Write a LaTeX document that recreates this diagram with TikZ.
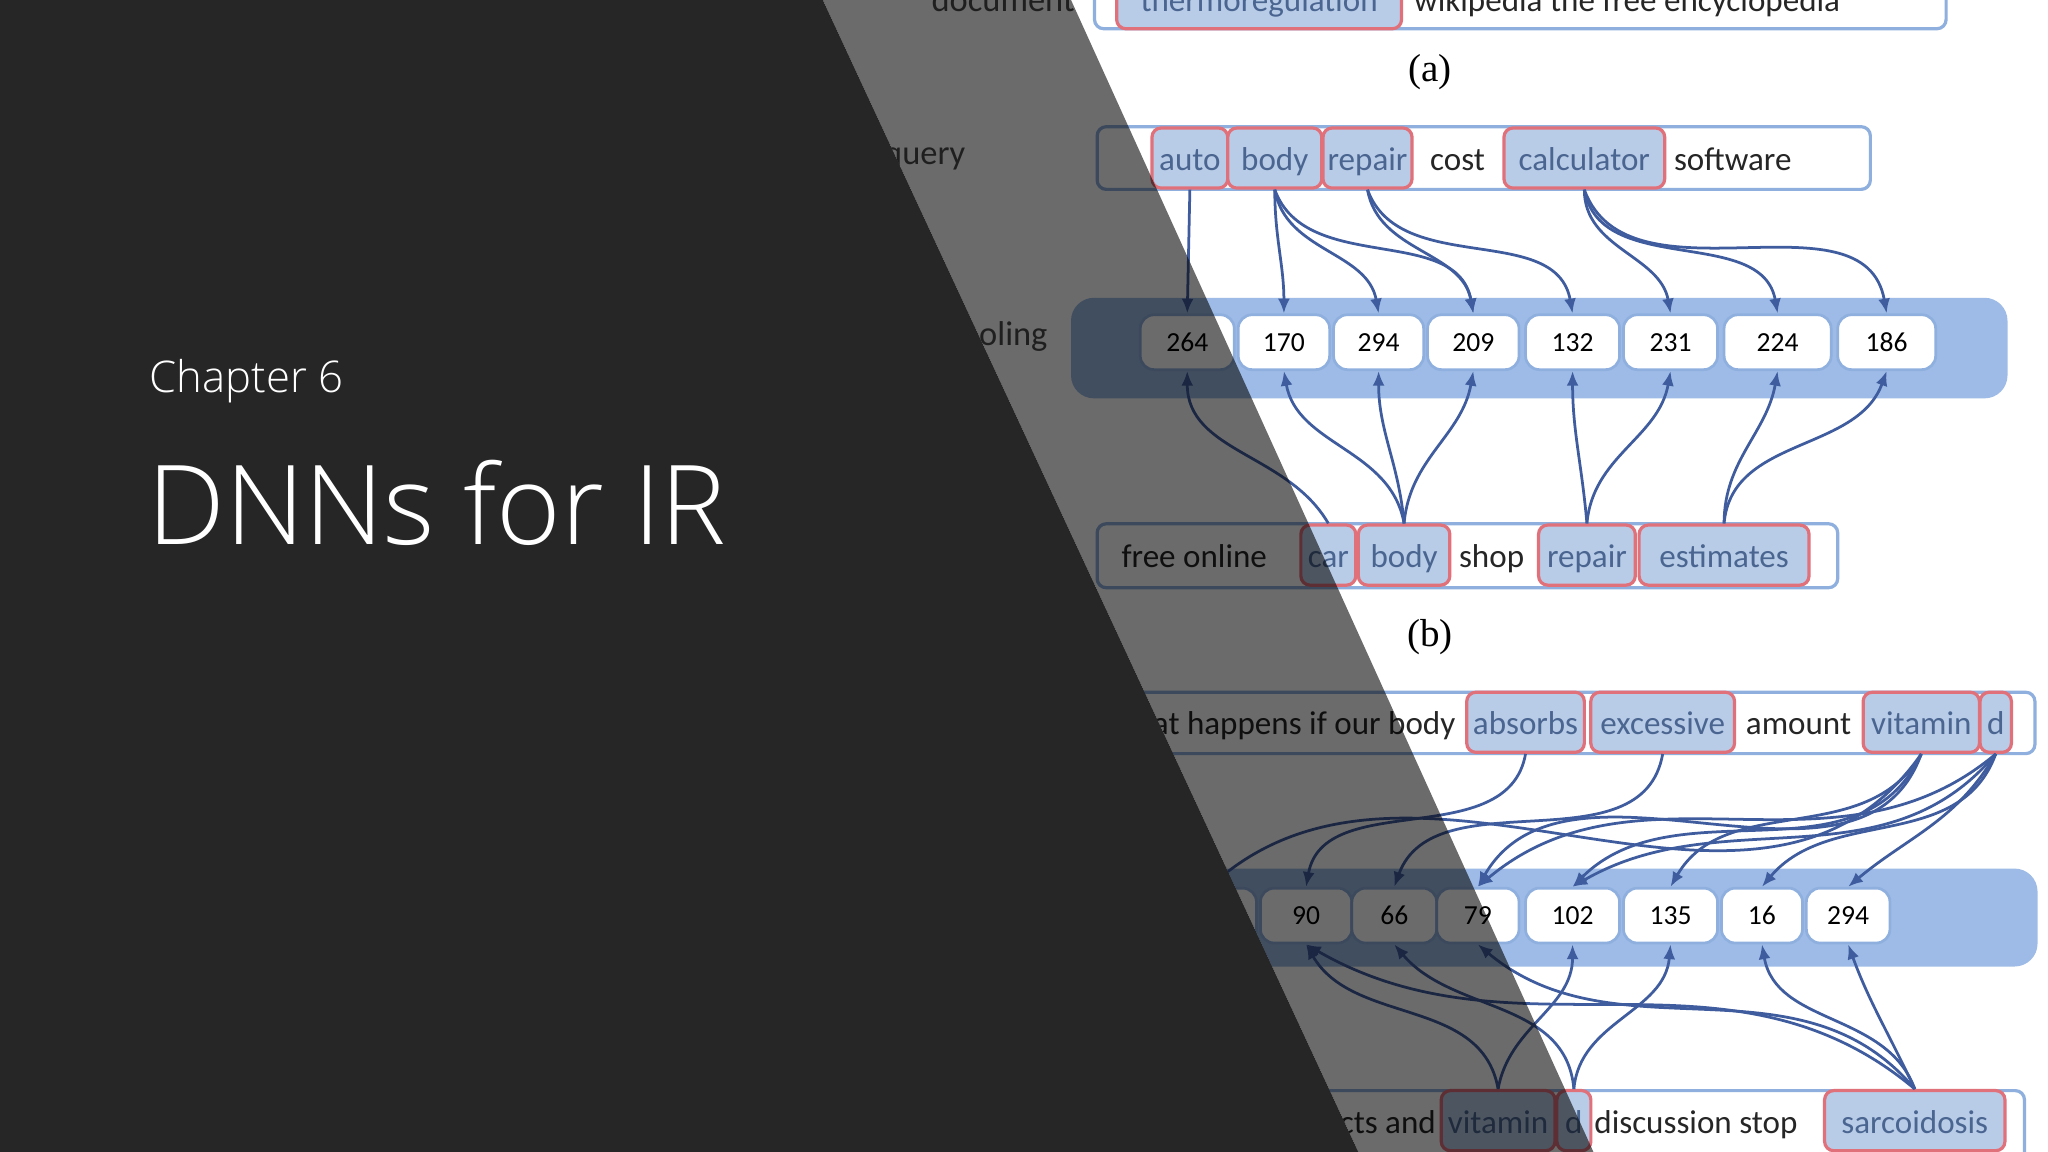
\documentclass[tikz,border=0pt]{standalone}
\usepackage{fontspec}
\setmainfont{Carlito}
\newfontfamily\slidefont{Open Sans Light}
\newfontfamily\serifb{Liberation Serif}
\usetikzlibrary{arrows.meta}
\definecolor{hlfill}{HTML}{B8CCE8}
\definecolor{hlred}{HTML}{E0707A}
\definecolor{boxblue}{HTML}{8FB0DE}
\definecolor{bandblue}{HTML}{9DBBE6}
\definecolor{arrblue}{HTML}{3F5C9E}
\definecolor{txtblue}{HTML}{4A6590}
\definecolor{darkbg}{HTML}{262626}
\tikzset{
  outer/.style={draw=boxblue,line width=0.7pt,rounded corners=2pt,fill=white},
  hl/.style={draw=hlred,fill=hlfill,line width=0.7pt,rounded corners=2pt,minimum height=0.46cm,inner xsep=1pt,inner ysep=0pt,text height=1.6ex,text depth=0.45ex,font=\fontsize{7.2}{8}\selectfont,text=txtblue},
  pw/.style={font=\fontsize{7.2}{8}\selectfont,text=black!85,inner sep=0pt,text height=1.6ex,text depth=0.45ex},
  band/.style={fill=bandblue,rounded corners=5pt},
  num/.style={draw=boxblue,fill=white,rounded corners=3pt,line width=0.6pt,minimum height=0.42cm,font=\fontsize{6}{7}\selectfont,inner sep=0pt},
  arr/.style={draw=arrblue,line width=0.6pt,-{Latex[length=3.2pt,width=2.6pt]}},
  lab/.style={font=\fontsize{7.5}{9}\selectfont,text=black!70,inner sep=0pt}
}
\begin{document}
\begin{tikzpicture}[x=0.01cm,y=-0.01cm]
\useasboundingbox (0,0) rectangle (1568,882);
\fill[white] (0,0) rectangle (1568,882);
% ---------- top document row
\node[lab] at (768,0) {document};
\draw[outer] (838,-25) rectangle (1490,22);
\node[hl,minimum width=2.18cm] (t0) at (964,-1) {thermoregulation};
\node[pw,anchor=west] at (1082,-1) {wikipedia the free encyclopedia};
\node[font=\serifb\fontsize{8.5}{10}\selectfont] (a) at (1095,55) {(a)};
% ---------- query (a)
\node[lab] at (708,122) {query};
\draw[outer] (840,97) rectangle (1432,145);
\node[hl,minimum width=0.58cm] (qa1) at (911,121) {auto};
\node[hl,minimum width=0.72cm] (qa2) at (976,121) {body};
\node[hl,minimum width=0.67cm] (qa3) at (1047,121) {repair};
\node[pw] at (1116,121) {cost};
\node[hl,minimum width=1.23cm] (qa4) at (1213,121) {calculator};
\node[pw,anchor=west] at (1281,121) {software};
% ---------- pooling (a)
\node[lab] at (762,258) {pooling};
\fill[band] (820,228) rectangle (1537,305);
\foreach \n/\l/\r/\t in {1/873/945/264,2/948/1018/170,3/1021/1090/294,4/1093/1163/209,5/1168/1240/132,6/1243/1315/231,7/1320/1402/224,8/1407/1482/186}{
  \node[num,minimum width={(\r-\l)*0.01cm}] (na\n) at ({(\l+\r)/2},262) {\t};
}
% ---------- doc (a)
\draw[outer] (840,401) rectangle (1407,450);
\node[pw,anchor=west] at (858,425) {free online};
\node[hl,minimum width=0.42cm] (da1) at (1017,425) {car};
\node[hl,minimum width=0.70cm] (da2) at (1075,425) {body};
\node[pw] at (1142,425) {shop};
\node[hl,minimum width=0.74cm] (da3) at (1215,425) {repair};
\node[hl,minimum width=1.30cm] (da4) at (1320,425) {estimates};
% arrows (a) top
\draw[arr] (qa1.south) -- (na1.north);
\draw[arr] (qa2.south) to[out=-90,in=90] (na2.north);
\draw[arr] (qa2.south) to[out=-80,in=100] (na3.north);
\draw[arr] (qa2.south) to[out=-70,in=100] (na4.north);
\draw[arr] (qa3.south) to[out=-80,in=100] (na4.north);
\draw[arr] (qa3.south) to[out=-70,in=100] (na5.north);
\draw[arr] (qa4.south) to[out=-90,in=100] (na6.north);
\draw[arr] (qa4.south) to[out=-80,in=100] (na7.north);
\draw[arr] (qa4.south) to[out=-70,in=100] (na8.north);
% arrows (a) bottom
\draw[arr] (da1.north) to[out=120,in=-90] (na1.south);
\draw[arr] (da2.north) to[out=100,in=-80] (na2.south);
\draw[arr] (da2.north) to[out=95,in=-90] (na3.south);
\draw[arr] (da2.north) to[out=85,in=-100] (na4.south);
\draw[arr] (da3.north) to[out=95,in=-90] (na5.south);
\draw[arr] (da3.north) to[out=85,in=-100] (na6.south);
\draw[arr] (da4.north) to[out=90,in=-100] (na7.south);
\draw[arr] (da4.north) to[out=85,in=-110] (na8.south);
\node[font=\serifb\fontsize{8.5}{10}\selectfont] (b) at (1095,488) {(b)};
% ---------- query (b)
\draw[outer] (700,530) rectangle (1558,577);
\node[pw,anchor=east] at (1115,553) {what happens if our body};
\node[hl,minimum width=0.90cm] (qb1) at (1168,553) {absorbs};
\node[hl,minimum width=1.10cm] (qb2) at (1273,553) {excessive};
\node[pw] at (1377,553) {amount};
\node[hl,minimum width=0.89cm] (qb3) at (1471,553) {vitamin};
\node[hl,minimum width=0.24cm] (qb4) at (1528,553) {d};
% ---------- pooling (b)
\fill[band] (700,665) rectangle (1560,740);
\foreach \n/\l/\r/\t in {0/890/962/32,1/965/1035/90,2/1035/1100/66,3/1100/1163/79,4/1168/1240/102,5/1243/1315/135,6/1318/1380/16,7/1383/1447/294}{
  \node[num,minimum width={(\r-\l)*0.01cm}] (nb\n) at ({(\l+\r)/2},701) {\t};
}
% ---------- doc (b)
\draw[outer] (700,835) rectangle (1550,905);
\node[pw,anchor=east] at (1100,858) {effects and};
\node[hl,minimum width=0.87cm] (db1) at (1147,858) {vitamin};
\node[hl,minimum width=0.26cm] (db2) at (1205,858) {d};
\node[pw,anchor=west] at (1220,858) {discussion stop};
\node[hl,minimum width=1.38cm] (db3) at (1466,858) {sarcoidosis};
% arrows (b) top
\draw[arr] (qb1.south) to[out=-100,in=80] (nb1.north);
\draw[arr] (qb2.south) to[out=-100,in=70] (nb2.north);
\draw[arr] (qb3.south) to[out=-110,in=60] (nb3.north);
\draw[arr] (qb3.south) to[out=-115,in=45] (nb4.north);
\draw[arr] (qb3.south) to[out=-120,in=60] (nb5.north);
\draw[arr] (qb3.south) to[out=-125,in=40] (nb0.north);
\draw[arr] (qb4.south) to[out=-110,in=50] (nb6.north);
\draw[arr] (qb4.south) to[out=-120,in=40] (nb7.north);
\draw[arr] (qb4.south) to[out=-130,in=30] (nb4.north);
\draw[arr] (qb4.south) to[out=-140,in=40] (nb3.north);
% arrows (b) bottom
\draw[arr] (db1.north) to[out=80,in=-90] (nb4.south);
\draw[arr] (db1.north) to[out=100,in=-60] (nb1.south);
\draw[arr] (db2.north) to[out=85,in=-95] (nb5.south);
\draw[arr] (db2.north) to[out=95,in=-50] (nb2.south);
\draw[arr] (db3.north) to[out=110,in=-80] (nb6.south);
\draw[arr] (db3.north) to[out=115,in=-70] (nb7.south);
\draw[arr] (db3.north) to[out=130,in=-40] (nb3.south);
\draw[arr] (db3.north) to[out=140,in=-30] (nb1.south);
% ---------- overlays
\fill[black,opacity=0.58] (630,0) -- (820,0) -- (1220,882) -- (1040,882) -- cycle;
\fill[darkbg] (0,0) -- (630,0) -- (1040,882) -- (0,882) -- cycle;
\node[anchor=west,text=white,font=\slidefont\fontsize{9.5}{11}\selectfont,inner sep=0pt] (ch) at (114,292) {Chapter 6};
\node[anchor=west,text=white,font=\slidefont\fontsize{24}{28}\selectfont,inner sep=0pt] (tt) at (112,385) {DNNs for IR};
\end{tikzpicture}
\end{document}
